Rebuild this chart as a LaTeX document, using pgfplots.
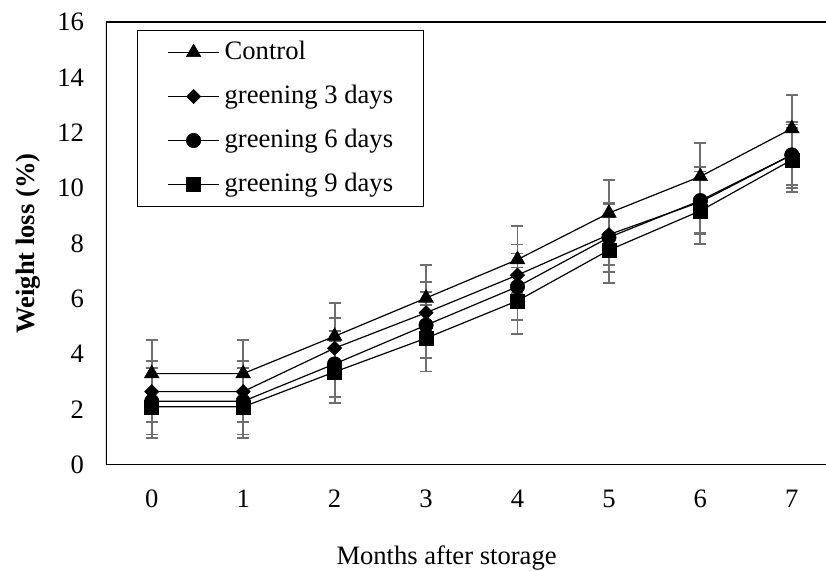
\documentclass[border=0pt]{standalone}
\usepackage{pgfplots}
\pgfplotsset{compat=1.18}
\usepackage{fontspec}
\setmainfont{Liberation Serif}
\definecolor{eb}{RGB}{110,110,110}

\begin{document}
\begin{tikzpicture}
\begin{axis}[
  scale only axis,
  width=360pt, height=221.5pt,
  xmin=-0.5, xmax=7.374, ymin=0, ymax=16,
  xtick={0,...,7}, ytick={0,2,...,16},
  major tick length=0pt,
  axis line style={draw=none},
  tick label style={font=\fontsize{13.3}{16}\selectfont},
  /pgf/number format/assume math mode=true,
  xticklabel style={yshift=-9pt},
  yticklabel style={xshift=-7.5pt},
  xlabel={Months after storage},
  ylabel={\textbf{Weight loss (\%)}},
  label style={font=\fontsize{13.3}{16}\selectfont},
  xlabel style={at={([yshift=-46.5pt]rel axis cs:0.473,0)}, anchor=center},
  ylabel style={at={([xshift=-39pt]rel axis cs:0,0.5)}, anchor=center},
  legend style={at={(axis description cs:0,1)}, anchor=north west, xshift=15.5pt, yshift=-4pt,
    draw=black, line width=0.5pt, font=\fontsize{13.3}{16}\selectfont,
    inner xsep=15pt, inner ysep=4.5pt, row sep=9pt, column sep=2.5pt,
    nodes={inner sep=0pt, text height=10pt, text depth=3pt}},
  legend cell align=left,
  legend image code/.code={\draw[mark repeat=2,mark phase=2] plot coordinates {(0pt,0pt) (12.75pt,0pt) (25.5pt,0pt)};},
  every axis plot/.append style={black, line width=0.6pt},
  error bars/y dir=both, error bars/y explicit,
  error bars/error bar style={eb, line width=0.9pt},
  error bars/error mark options={rotate=90, mark size=3pt, eb, line width=0.9pt},
]
\draw[line width=0.75pt] (rel axis cs:1,0) -- (rel axis cs:0,0) -- (rel axis cs:0,1) -- (rel axis cs:1,1);
\coordinate (bl) at (rel axis cs:0,0);
\coordinate (tr) at (rel axis cs:1,1);

\addplot[black, line width=0.6pt, mark=triangle*, mark size=4.2pt, mark options={solid, fill=black, line width=0.3pt}]
  table[x=x, y=y, y error=e] {
x y e
0 3.30 1.2
1 3.30 1.2
2 4.65 1.2
3 6.03 1.2
4 7.42 1.2
5 9.10 1.2
6 10.42 1.2
7 12.15 1.2
};
\addlegendentry{Control}

\addplot[black, line width=0.6pt, mark=square*, mark size=2.5pt, mark options={solid, fill=black, line width=0.3pt, rotate=45}]
  table[x=x, y=y, y error=e] {
x y e
0 2.65 1.1
1 2.65 1.1
2 4.22 1.1
3 5.50 1.1
4 6.86 1.1
5 8.32 1.1
6 9.50 1.1
7 11.20 1.2
};
\addlegendentry{greening 3 days}

\addplot[black, line width=0.6pt, mark=*, mark size=3.6pt, mark options={solid, fill=black, line width=0.3pt}]
  table[x=x, y=y, y error=e] {
x y e
0 2.30 1.2
1 2.30 1.2
2 3.65 1.2
3 5.05 1.2
4 6.44 1.2
5 8.22 1.25
6 9.55 1.2
7 11.20 1.1
};
\addlegendentry{greening 6 days}

\addplot[black, line width=0.6pt, mark=square*, mark size=3.5pt, mark options={solid, fill=black, line width=0.3pt}]
  table[x=x, y=y, y error=e] {
x y e
0 2.10 1.13
1 2.10 1.13
2 3.36 1.12
3 4.58 1.2
4 5.93 1.2
5 7.76 1.19
6 9.18 1.2
7 11.02 1.15
};
\addlegendentry{greening 9 days}
\end{axis}
\pgfresetboundingbox
\path[use as bounding box] ([shift={(-53pt,-53pt)}]bl) rectangle ([shift={(0pt,11pt)}]tr);
\end{tikzpicture}
\end{document}
